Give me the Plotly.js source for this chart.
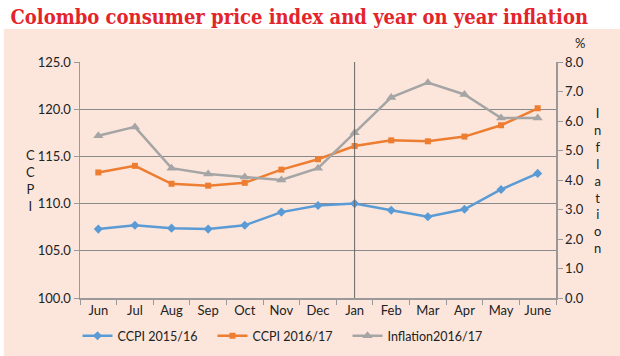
<!DOCTYPE html>
<html>
<head>
<meta charset="utf-8">
<script src="https://cdn.plot.ly/plotly-3.0.1.min.js"></script>
<style>html,body{margin:0;padding:0;background:#fff}#chart{width:620px;height:356px}</style>
</head>
<body>
<div id="chart"></div>
<script>
const months = ["Jun","Jul","Aug","Sep","Oct","Nov","Dec","Jan","Feb","Mar","Apr","May","June"];
const ccpi1516 = [107.3,107.7,107.4,107.3,107.7,109.1,109.8,110.0,109.3,108.6,109.4,111.5,113.2];
const ccpi1617 = [113.3,114.0,112.1,111.9,112.2,113.6,114.7,116.1,116.7,116.6,117.1,118.3,120.1];
const inflation1617 = [5.5,5.8,4.4,4.2,4.1,4.0,4.4,5.6,6.8,7.3,6.9,6.1,6.1];
const leftTicks = [100,105,110,115,120,125];
const rightTicks = [0,1,2,3,4,5,6,7,8];

const fnt = {family: "Lato, 'DejaVu Sans', sans-serif", size: 13, color: "#222"};
const legFnt = {family: "Lato, 'DejaVu Sans', sans-serif", size: 12.5, color: "#222"};

const traces = [
  {x: months, y: ccpi1516, name: "CCPI 2015/16", type: "scatter", mode: "lines+markers",
   line: {color: "#5b9bd5", width: 2.5}, marker: {symbol: "diamond", size: 7, color: "#5b9bd5"}},
  {x: months, y: ccpi1617, name: "CCPI 2016/17", type: "scatter", mode: "lines+markers",
   line: {color: "#ed7d31", width: 2.5}, marker: {symbol: "square", size: 6, color: "#ed7d31"}},
  {x: months, y: inflation1617, name: "Inflation2016/17", type: "scatter", mode: "lines+markers", yaxis: "y2",
   line: {color: "#a5a5a5", width: 2.5}, marker: {symbol: "triangle-up", size: 9, color: "#a5a5a5"}}
];

const layout = {
  width: 620, height: 356,
  margin: {l: 80, r: 64, t: 62, b: 58, autoexpand: false},
  paper_bgcolor: "#ffffff",
  plot_bgcolor: "#ffffff",
  font: fnt,
  showlegend: true,
  legend: {orientation: "h", x: 0.125, xanchor: "left", xref: "container", y: 0.056, yref: "container", yanchor: "middle",
           font: legFnt, itemwidth: 30, entrywidth: 90, traceorder: "normal", bgcolor: "rgba(0,0,0,0)"},
  title: {text: "<b>Colombo consumer price index and year on year inflation</b>",
          font: {family: "'DejaVu Serif Condensed', 'DejaVu Serif', serif", size: 20, color: "#e3242b"},
          x: 0.017, xanchor: "left", xref: "container", y: 0.953, yref: "container", yanchor: "middle"},
  xaxis: {type: "category", tickson: "boundaries", ticks: "outside", ticklen: 5, tickcolor: "#999",
          showline: true, linecolor: "#999", linewidth: 1.5, showgrid: false, tickfont: fnt,
          range: [-0.5, 12.5], fixedrange: true},
  yaxis: {range: [100, 125], tickvals: leftTicks, tickformat: ".1f", ticks: "outside", ticklen: 5,
          tickcolor: "#999", showline: true, linecolor: "#999", linewidth: 1.5,
          showgrid: true, gridcolor: "#8a8a8a", gridwidth: 1, zeroline: false, tickfont: fnt},
  yaxis2: {range: [0, 8], tickvals: rightTicks, tickformat: ".1f", overlaying: "y", side: "right",
           ticks: "outside", ticklen: 5, tickcolor: "#999", showline: true, linecolor: "#999", linewidth: 1.5,
           showgrid: false, zeroline: false, tickfont: fnt},
  shapes: [
    {type: "rect", xref: "paper", yref: "paper", x0: -0.160, x1: 1.14, y0: -0.25, y1: 1.14,
     fillcolor: "#fce6dc", line: {width: 0}, layer: "below"},
    {type: "line", xref: "x", yref: "paper", x0: "Jan", x1: "Jan", y0: 0, y1: 1,
     line: {color: "#666", width: 1}}
  ],
  annotations: [
    {text: "C<br>C<br>P<br>I", xref: "paper", yref: "paper", x: -0.105, y: 0.50, xanchor: "center", yanchor: "middle",
     showarrow: false, font: fnt, align: "center"},
    {text: "I<br>n<br>f<br>l<br>a<br>t<br>i<br>o<br>n", xref: "paper", yref: "paper", x: 1.087, y: 0.50,
     xanchor: "center", yanchor: "middle", showarrow: false, font: fnt, align: "center"},
    {text: "%", xref: "paper", yref: "paper", x: 1.05, y: 1.08, xanchor: "center", yanchor: "middle",
     showarrow: false, font: fnt}
  ]
};

Plotly.newPlot("chart", traces, layout, {displayModeBar: false, staticPlot: true});
</script>
</body>
</html>
